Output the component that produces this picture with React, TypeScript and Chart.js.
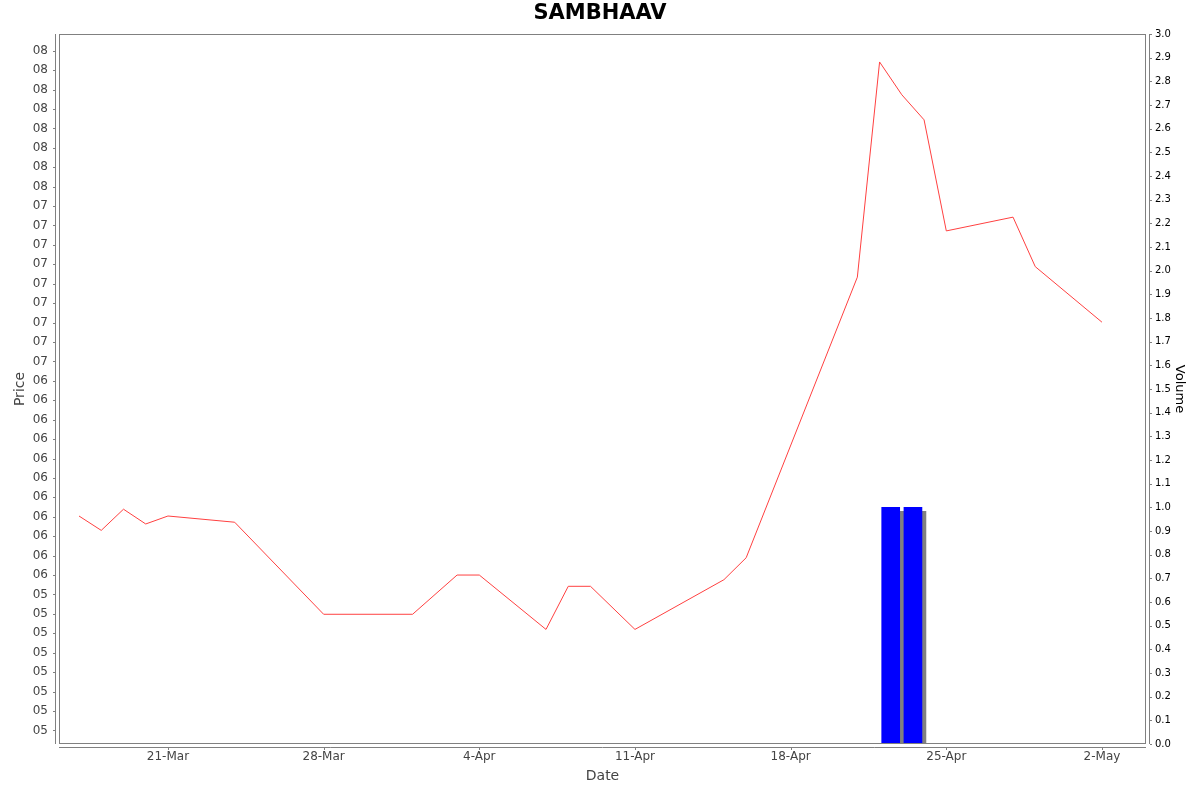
import { useEffect, useRef } from "react";
import { Chart, registerables } from "chart.js";
Chart.register(...registerables);

// ── Data ──────────────────────────────────────────────────────────────────────

const TITLE = "SAMBHAAV";

// trading days, and close price in price-axis tick steps
const PRICE_DATES = [
  "17-Mar", "18-Mar", "19-Mar", "20-Mar", "21-Mar", "24-Mar", "28-Mar", "1-Apr",
  "3-Apr", "4-Apr", "7-Apr", "8-Apr", "9-Apr", "11-Apr", "15-Apr", "16-Apr",
  "21-Apr", "22-Apr", "23-Apr", "24-Apr", "25-Apr", "28-Apr", "29-Apr", "2-May",
];
const PRICE = [
  11.04, 10.30, 11.39, 10.63, 11.04, 10.72, 5.98, 5.98,
  8.00, 8.00, 5.20, 7.42, 7.42, 5.20, 7.76, 8.89,
  23.34, 34.42, 32.73, 31.44, 25.72, 26.43, 23.88, 21.02,
];

const VOLUME_DATES = ["22-Apr", "23-Apr"];
const VOLUME = [1.0, 1.0];

// price axis labels, bottom to top (the source prints only two digits)
const PRICE_TICK_LABELS = [
  "05", "05", "05", "05", "05", "05", "05", "05",
  "06", "06", "06", "06", "06", "06", "06", "06", "06", "06", "06",
  "07", "07", "07", "07", "07", "07", "07", "07", "07",
  "08", "08", "08", "08", "08", "08", "08", "08",
];
const VOLUME_TICK_LABELS = [
  "0.0", "0.1", "0.2", "0.3", "0.4", "0.5", "0.6", "0.7", "0.8", "0.9",
  "1.0", "1.1", "1.2", "1.3", "1.4", "1.5", "1.6", "1.7", "1.8", "1.9",
  "2.0", "2.1", "2.2", "2.3", "2.4", "2.5", "2.6", "2.7", "2.8", "2.9", "3.0",
];
const X_TICK_LABELS = ["21-Mar", "28-Mar", "4-Apr", "11-Apr", "18-Apr", "25-Apr", "2-May"];

// ── Helpers ───────────────────────────────────────────────────────────────────

const MONTHS = ["Jan", "Feb", "Mar", "Apr", "May", "Jun", "Jul", "Aug", "Sep", "Oct", "Nov", "Dec"];
const DAY = 86400000;
const ORIGIN = Date.UTC(2000, 2, 17);

// "22-Apr" -> days since 17-Mar
function dayOf(label: string) {
  const [d, m] = label.split("-");
  return Math.round((Date.UTC(2000, MONTHS.indexOf(m), Number(d)) - ORIGIN) / DAY);
}

const X_TICK_DAYS = X_TICK_LABELS.map(dayOf);

// ── Colours ───────────────────────────────────────────────────────────────────

const AXIS = "#808080";
const LABEL = "#444444";
const RED = "#ff4040";
const BLUE = "#0000ff";
const FONT = "'DejaVu Sans', sans-serif";

// ── Plugins ───────────────────────────────────────────────────────────────────

const barShadow = {
  id: "barShadow",
  beforeDatasetDraw(chart: any, args: any) {
    if (args.meta.type !== "bar") return;
    const ctx = chart.ctx;
    ctx.save();
    ctx.shadowColor = AXIS;
    ctx.shadowOffsetX = 4;
    ctx.shadowOffsetY = 4;
    ctx.shadowBlur = 0;
  },
  afterDatasetDraw(chart: any, args: any) {
    if (args.meta.type !== "bar") return;
    chart.ctx.restore();
  },
};

const frame = {
  id: "frame",
  afterDraw(chart: any) {
    const { ctx, chartArea } = chart;
    const { left, right, top, bottom } = chartArea;
    ctx.save();
    ctx.strokeStyle = AXIS;
    ctx.lineWidth = 1;
    // plot outline
    ctx.strokeRect(left + 0.5, top + 0.5, right - left - 1, bottom - top - 1);
    ctx.beginPath();
    // axis lines, set 4px off the plot
    ctx.moveTo(left - 3.5, top);
    ctx.lineTo(left - 3.5, bottom);
    ctx.moveTo(right + 3.5, top);
    ctx.lineTo(right + 3.5, bottom);
    ctx.moveTo(left, bottom + 3.5);
    ctx.lineTo(right, bottom + 3.5);
    // tick marks
    const y = chart.scales.y;
    y.ticks.forEach((t: any) => {
      const p = Math.round(y.getPixelForValue(t.value)) + 0.5;
      ctx.moveTo(left - 6, p);
      ctx.lineTo(left - 4, p);
    });
    const y1 = chart.scales.y1;
    y1.ticks.forEach((t: any) => {
      const p = Math.round(y1.getPixelForValue(t.value)) + 0.5;
      ctx.moveTo(right + 4, p);
      ctx.lineTo(right + 6, p);
    });
    const x = chart.scales.x;
    x.ticks.forEach((t: any) => {
      const p = Math.round(x.getPixelForValue(t.value)) + 0.5;
      ctx.moveTo(p, bottom + 4);
      ctx.lineTo(p, bottom + 6);
    });
    ctx.stroke();
    ctx.restore();
  },
};

// ── Chart ─────────────────────────────────────────────────────────────────────

function PriceVolumeChart() {
  const ref = useRef<HTMLCanvasElement>(null);
  const chartRef = useRef<Chart | null>(null);

  useEffect(() => {
    if (!ref.current) return;
    chartRef.current?.destroy();

    chartRef.current = new Chart(ref.current, {
      type: "line",
      data: {
        datasets: [
          {
            type: "line",
            label: "Price",
            data: PRICE_DATES.map((d, i) => ({ x: dayOf(d), y: PRICE[i] })),
            borderColor: RED,
            borderWidth: 1,
            pointRadius: 0,
            tension: 0,
            fill: false,
            yAxisID: "y",
          },
          {
            type: "bar",
            label: "Volume",
            // each bar covers its whole trading day
            data: VOLUME_DATES.map((d, i) => ({ x: dayOf(d) + 0.5, y: VOLUME[i] })),
            backgroundColor: BLUE,
            borderWidth: 0,
            barThickness: 18,
            yAxisID: "y1",
          },
        ] as any,
      },
      options: {
        responsive: true,
        maintainAspectRatio: false,
        animation: false,
        layout: { padding: 0 },
        plugins: {
          legend: { display: false },
          tooltip: { enabled: false },
          title: {
            display: true,
            text: TITLE,
            color: "#000",
            font: { family: FONT, size: 21, weight: "bold" },
            padding: { top: 1, bottom: 7.8 },
          },
        },
        scales: {
          x: {
            type: "linear",
            offset: false,
            min: -0.9,
            max: 47.98,
            grid: { display: false, drawTicks: false },
            border: { display: false },
            afterBuildTicks: (s: any) => {
              s.ticks = X_TICK_DAYS.map((v) => ({ value: v }));
            },
            afterFit: (s: any) => {
              s.height = 48;
            },
            ticks: {
              autoSkip: false,
              maxRotation: 0,
              padding: 6,
              color: LABEL,
              font: { family: FONT, size: 12 },
              callback: (v: any) => X_TICK_LABELS[X_TICK_DAYS.indexOf(Number(v))] ?? "",
            },
            title: {
              display: true,
              text: "Date",
              color: LABEL,
              font: { family: FONT, size: 14 },
              padding: { top: 0, bottom: 7.6 },
            },
          },
          y: {
            type: "linear",
            position: "left",
            min: -0.7,
            max: 35.86,
            grid: { display: false, drawTicks: false },
            border: { display: false },
            afterBuildTicks: (s: any) => {
              s.ticks = PRICE_TICK_LABELS.map((_, i) => ({ value: i }));
            },
            afterFit: (s: any) => {
              s.width = 59;
            },
            ticks: {
              autoSkip: false,
              padding: 11,
              color: LABEL,
              font: { family: FONT, size: 12 },
              callback: (v: any) => PRICE_TICK_LABELS[Math.round(Number(v))] ?? "",
            },
            title: {
              display: true,
              text: "Price",
              color: LABEL,
              font: { family: FONT, size: 14 },
              padding: { top: 12, bottom: 0 },
            },
          },
          y1: {
            type: "linear",
            position: "right",
            min: 0,
            max: 3,
            grid: { display: false, drawTicks: false },
            border: { display: false },
            afterBuildTicks: (s: any) => {
              s.ticks = VOLUME_TICK_LABELS.map((l) => ({ value: Number(l) }));
            },
            afterFit: (s: any) => {
              s.width = 54;
            },
            ticks: {
              autoSkip: false,
              padding: 9,
              color: "#000",
              font: { family: FONT, size: 10 },
              callback: (v: any) => Number(v).toFixed(1),
            },
            title: {
              display: true,
              text: "Volume",
              color: "#000",
              font: { family: FONT, size: 13 },
              padding: { top: 13, bottom: 0 },
            },
          },
        },
      },
      plugins: [barShadow, frame],
    });

    return () => chartRef.current?.destroy();
  }, []);

  return <canvas ref={ref} />;
}

export default function App() {
  return (
    <div
      style={{
        position: "fixed",
        left: 0,
        top: 0,
        width: 1200,
        height: 792,
        background: "#fff",
      }}
    >
      <PriceVolumeChart />
    </div>
  );
}
